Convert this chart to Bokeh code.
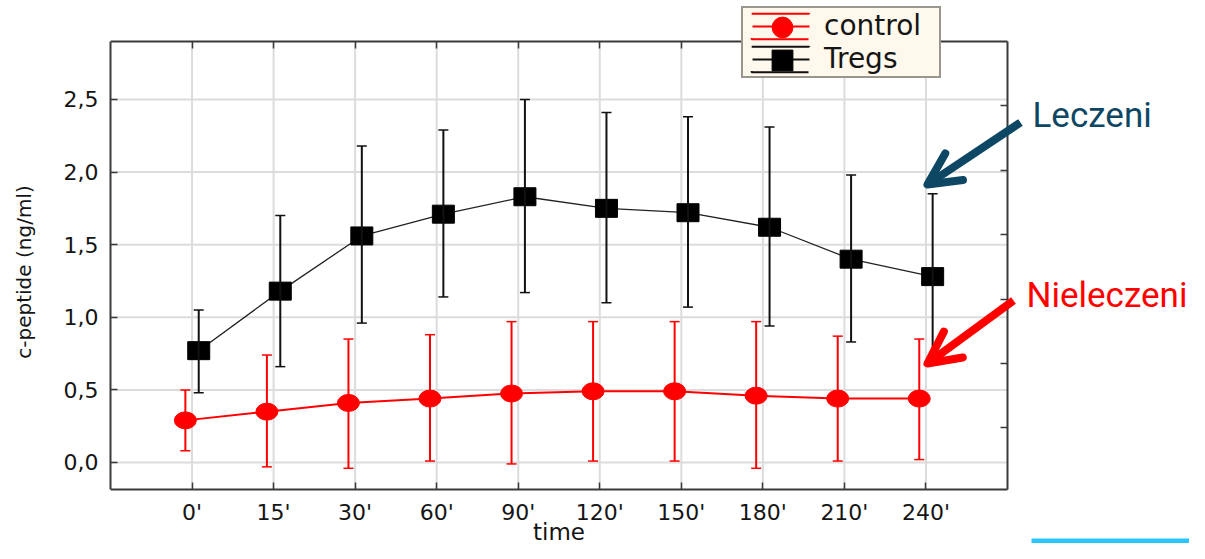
from bokeh.plotting import figure
from bokeh.models import (ColumnDataSource, Whisker, TeeHead, FixedTicker, LinearAxis, Range1d,
                          CustomJSTickFormatter, Legend, LegendItem, Arrow, OpenHead, Label,
                          BoxAnnotation)
from bokeh.embed import file_html
from bokeh.resources import INLINE

# ---------------- data ----------------
time_labels = ["0'", "15'", "30'", "60'", "90'", "120'", "150'", "180'", "210'", "240'"]

control_mean = [0.29, 0.35, 0.41, 0.44, 0.475, 0.49, 0.49, 0.46, 0.44, 0.44]
control_upper = [0.50, 0.74, 0.85, 0.88, 0.97, 0.97, 0.97, 0.97, 0.87, 0.85]
control_lower = [0.08, -0.03, -0.04, 0.01, -0.01, 0.01, 0.01, -0.04, 0.01, 0.02]

tregs_mean = [0.77, 1.18, 1.56, 1.71, 1.83, 1.75, 1.72, 1.62, 1.40, 1.28]
tregs_upper = [1.05, 1.70, 2.18, 2.29, 2.50, 2.41, 2.38, 2.31, 1.98, 1.85]
tregs_lower = [0.48, 0.66, 0.96, 1.14, 1.17, 1.10, 1.07, 0.94, 0.83, 0.71]

y_ticks = [0.0, 0.5, 1.0, 1.5, 2.0, 2.5]
right_ticks = [1, 2, 3, 4, 5, 6]

# ---------------- geometry ----------------
W, H = 1189, 543
# plot box (pixels) and the data values at its edges
BX0, BX1, BY0, BY1 = 110, 1007, 41, 489
X0, X1 = -1.0, 10.0
YB, YT = -0.186, 2.899
RB, RT = 0.043, 7.0          # secondary (right) scale at the box edges
FL, FR, FT, FB = BX0, W, 0, H  # frame covers everything right of the left axis

kx = (BX1 - BX0) / (X1 - X0)
ky = (BY1 - BY0) / (YT - YB)
kr = (BY1 - BY0) / (RT - RB)


def px_x(sx):
    return X0 + (sx - BX0) / kx


def px_y(sy):
    return YT - (sy - BY0) / ky


RED = "#ff0000"
BLK = "#111111"
AX = "#3a3a3a"
TXT = "#151515"
GRID = "#dcdcdc"
TEAL = "#0d4763"
TICK_FONT = "DejaVu Sans"

n = len(time_labels)
cat = list(range(n))
OFF = 0.082
xr = [i - OFF for i in cat]
xb = [i + OFF for i in cat]

p = figure(width=W, height=H,
           x_range=Range1d(px_x(FL), px_x(FR)), y_range=Range1d(px_y(FB), px_y(FT)),
           output_backend="svg", toolbar_location=None,
           min_border=0, min_border_left=FL, min_border_right=0,
           min_border_top=0, min_border_bottom=0)
p.outline_line_color = None
p.background_fill_color = "white"
p.border_fill_color = "white"
p.xgrid.visible = False
p.ygrid.visible = False

# ---------------- axes ----------------
def style_axis(ax):
    ax.axis_line_color = AX
    ax.axis_line_width = 2
    ax.major_tick_line_color = AX
    ax.major_tick_line_width = 1.5
    ax.major_tick_in = 7
    ax.major_tick_out = 0
    ax.minor_tick_line_color = None
    ax.major_label_text_font = TICK_FONT
    ax.major_label_text_font_size = "22px"
    ax.major_label_text_color = TXT


xa = p.xaxis[0]
style_axis(xa)
xa.fixed_location = YB
xa.bounds = (X0, X1)
xa.ticker = FixedTicker(ticks=cat)
xa.formatter = CustomJSTickFormatter(args=dict(labels=time_labels), code="""
    const i = Math.round(tick);
    return (i >= 0 && i < labels.length) ? labels[i] : '';
""")
xa.major_label_standoff = 10

ya = p.yaxis[0]
style_axis(ya)
ya.bounds = (YB, YT)
ya.ticker = FixedTicker(ticks=y_ticks)
ya.formatter = CustomJSTickFormatter(code="return tick.toFixed(1).replace('.', ',');")
ya.major_label_standoff = 12
ya.axis_label = "c-peptide (ng/ml)"
ya.axis_label_text_font = TICK_FONT
ya.axis_label_text_font_size = "20px"
ya.axis_label_text_font_style = "normal"
ya.axis_label_text_color = TXT
ya.axis_label_standoff = 25

top = LinearAxis(ticker=FixedTicker(ticks=cat), formatter=CustomJSTickFormatter(code="return '';"),
                 fixed_location=YT, bounds=(X0, X1))
style_axis(top)
top.major_label_text_font_size = "1px"
top.major_label_standoff = 0
p.add_layout(top, "above")

p.extra_y_ranges = {"right": Range1d(RB - (FB - BY1) / kr, RT + (BY0 - FT) / kr)}
right = LinearAxis(y_range_name="right", ticker=FixedTicker(ticks=right_ticks),
                   formatter=CustomJSTickFormatter(code="return '';"),
                   fixed_location=X1, bounds=(RB, RT))
style_axis(right)
right.major_label_text_font_size = "1px"
right.major_label_standoff = 0
p.add_layout(right, "right")

# grid lines inside the plot box only
p.segment(x0=cat, y0=[YB] * n, x1=cat, y1=[YT] * n, line_color=GRID, line_width=2)
p.segment(x0=[X0] * len(y_ticks), y0=y_ticks, x1=[X1] * len(y_ticks), y1=y_ticks,
          line_color=GRID, line_width=2)

# ---------------- data marks ----------------
src_c = ColumnDataSource(dict(x=xr, y=control_mean, upper=control_upper, lower=control_lower))
src_t = ColumnDataSource(dict(x=xb, y=tregs_mean, upper=tregs_upper, lower=tregs_lower))

p.line("x", "y", source=src_c, line_color=RED, line_width=2)
p.line("x", "y", source=src_t, line_color="#222222", line_width=1.3)

p.add_layout(Whisker(source=src_c, base="x", upper="upper", lower="lower", level="annotation",
                     line_color=RED, line_width=2,
                     upper_head=TeeHead(size=10, line_color=RED, line_width=1.5),
                     lower_head=TeeHead(size=10, line_color=RED, line_width=1.5)))
p.add_layout(Whisker(source=src_t, base="x", upper="upper", lower="lower", level="annotation",
                     line_color=BLK, line_width=2,
                     upper_head=TeeHead(size=10, line_color=BLK, line_width=1.5),
                     lower_head=TeeHead(size=10, line_color=BLK, line_width=1.5)))

p.ellipse("x", "y", source=src_c, width=22, height=17, width_units="screen",
          height_units="screen", fill_color=RED, line_color=RED)
p.rect("x", "y", source=src_t, width=22, height=18, width_units="screen",
       height_units="screen", fill_color="black", line_color="black")

# ---------------- legend (legend-only renderers) ----------------
GW, GH = 72, 32
r_line = p.line("x", "y", source=src_c, line_color=RED, line_width=2,
                line_dash="0 8 57 20", visible=False)
r_rect = p.rect("x", "y", source=src_c, width=1, height=1, fill_alpha=0, line_color=RED,
                line_width=2, line_dash="58 26", visible=False)
b_line = p.line("x", "y", source=src_t, line_color=BLK, line_width=2,
                line_dash="0 8 57 20", visible=False)
b_rect = p.rect("x", "y", source=src_t, width=1, height=1, fill_alpha=0, line_color=BLK,
                line_width=2, line_dash="58 26", visible=False)

leg = Legend(items=[LegendItem(label="control", renderers=[r_line, r_rect]),
                    LegendItem(label="Tregs", renderers=[b_line, b_rect])],
             location=(741 - FL, FB - 78), padding=1, spacing=0, margin=0,
             glyph_width=GW, glyph_height=GH, label_standoff=8,
             label_width=114, label_height=20,
             label_text_font=TICK_FONT, label_text_font_size="28px", label_text_color=TXT,
             background_fill_color="#fff8ec", background_fill_alpha=1,
             border_line_color="#333333", border_line_width=2)
p.add_layout(leg)

r_mark = p.scatter("x", "y", source=src_c, marker="circle", size=20, fill_color=RED,
                   line_color=RED, visible=False)
b_mark = p.scatter("x", "y", source=src_t, marker="square", size=20, fill_color="black",
                   line_color="black", visible=False)
for rend, cy in ((r_mark, 27.3), (b_mark, 59.7)):
    lg = Legend(items=[LegendItem(label=" ", renderers=[rend])],
                location=(782 - 26 - FL, round(FB - (cy + 26))), padding=0, spacing=0, margin=0,
                glyph_width=52, glyph_height=52, label_standoff=0,
                label_width=0, label_height=0, label_text_font_size="1px", label_text_alpha=0,
                background_fill_alpha=0, border_line_color=None)
    p.add_layout(lg)

# ---------------- annotations ----------------
# (Label anchors sit ~0.39 em above the drawn baseline, so they are set that much higher)
p.add_layout(Label(x=(X0 + X1) / 2, y=px_y(531), text="time", text_align="center",
                   text_baseline="alphabetic", text_font=TICK_FONT,
                   text_font_size="23px", text_color=TXT))

for (x0, y0, x1, y1, c) in ((1020, 122, 927, 184, TEAL), (1013, 300, 927, 363, RED)):
    p.add_layout(Arrow(x_start=px_x(x0), y_start=px_y(y0), x_end=px_x(x1), y_end=px_y(y1),
                       line_color=c, line_width=8,
                       end=OpenHead(size=32, line_color=c, line_width=8, line_join="round",
                                    line_cap="round")))

p.add_layout(Label(x=px_x(1032), y=px_y(115), text="Leczeni", text_align="left",
                   text_baseline="alphabetic", text_font="Roboto",
                   text_font_size="35px", text_color=TEAL))
p.add_layout(Label(x=px_x(1026), y=px_y(295), text="Nieleczeni", text_align="left",
                   text_baseline="alphabetic", text_font="Roboto",
                   text_font_size="35px", text_color=RED))

p.add_layout(BoxAnnotation(left=px_x(1031), right=px_x(1215), top=px_y(538), bottom=px_y(575),
                           fill_color="#29c5fd", fill_alpha=1, line_color=None))

open("out.html", "w").write(file_html(p, INLINE))
